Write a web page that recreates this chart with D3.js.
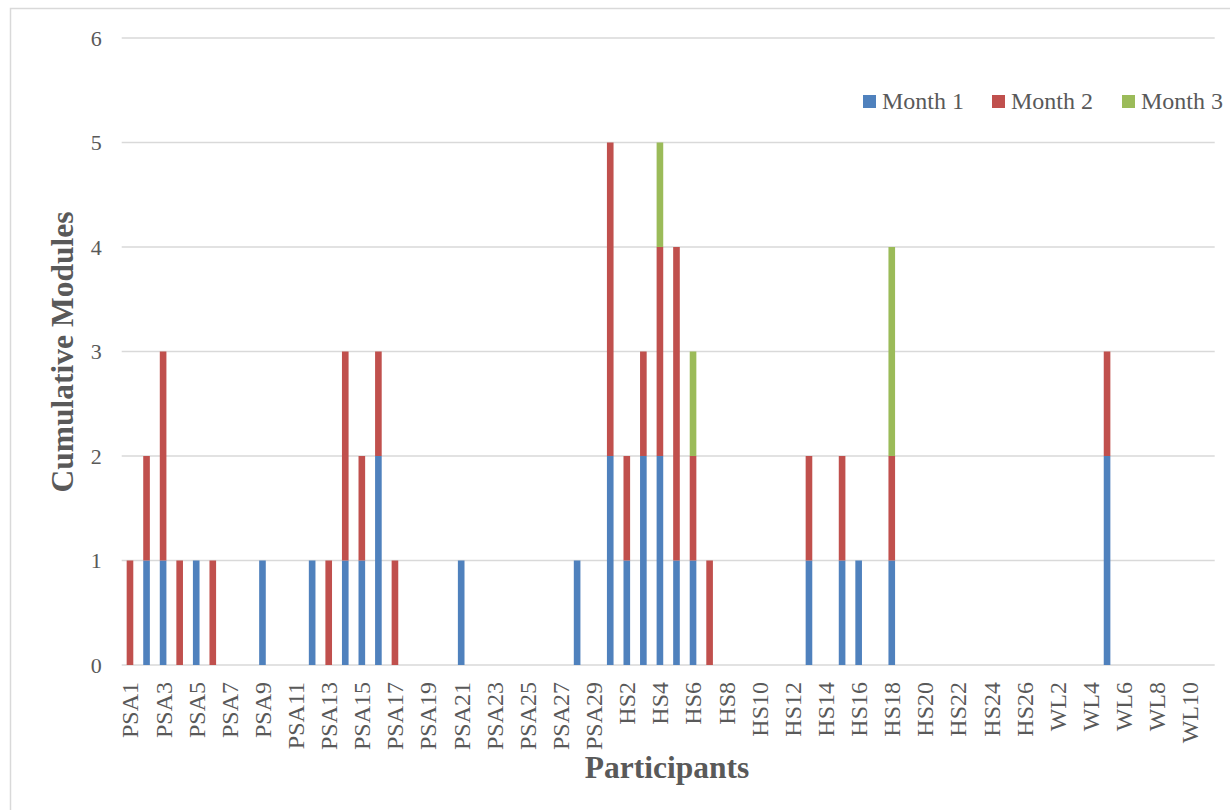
<!DOCTYPE html>
<html>
<head>
<meta charset="utf-8">
<script src="https://cdn.jsdelivr.net/npm/d3@7"></script>
<style>
  html, body { margin: 0; padding: 0; background: #fff; }
  svg { display: block; }
  text { font-family: "Liberation Serif", "Times New Roman", serif; }
</style>
</head>
<body>
<svg id="chart" width="1230" height="810"></svg>
<script>
// Participants: PSA1–PSA29, HS1–HS26, WL1–WL11
const participants = [
  "PSA1","PSA2","PSA3","PSA4","PSA5","PSA6","PSA7","PSA8","PSA9","PSA10",
  "PSA11","PSA12","PSA13","PSA14","PSA15","PSA16","PSA17","PSA18","PSA19","PSA20",
  "PSA21","PSA22","PSA23","PSA24","PSA25","PSA26","PSA27","PSA28","PSA29",
  "HS1","HS2","HS3","HS4","HS5","HS6","HS7","HS8","HS9","HS10",
  "HS11","HS12","HS13","HS14","HS15","HS16","HS17","HS18","HS19","HS20",
  "HS21","HS22","HS23","HS24","HS25","HS26",
  "WL1","WL2","WL3","WL4","WL5","WL6","WL7","WL8","WL9","WL10","WL11"
];

// Modules completed per month (PSA block, HS block, WL block)
const month1 = [
  0,1,1,0,1,0,0,0,1,0, 0,1,0,1,1,2,0,0,0,0, 1,0,0,0,0,0,0,1,0,
  2,1,2,2,1,1,0,0,0,0, 0,0,1,0,1,1,0,1,0,0, 0,0,0,0,0,0,
  0,0,0,0,2,0,0,0,0,0,0
];
const month2 = [
  1,1,2,1,0,1,0,0,0,0, 0,0,1,2,1,1,1,0,0,0, 0,0,0,0,0,0,0,0,0,
  3,1,1,2,3,1,1,0,0,0, 0,0,1,0,1,0,0,1,0,0, 0,0,0,0,0,0,
  0,0,0,0,1,0,0,0,0,0,0
];
const month3 = [
  0,0,0,0,0,0,0,0,0,0, 0,0,0,0,0,0,0,0,0,0, 0,0,0,0,0,0,0,0,0,
  0,0,0,1,0,1,0,0,0,0, 0,0,0,0,0,0,0,2,0,0, 0,0,0,0,0,0,
  0,0,0,0,0,0,0,0,0,0,0
];

const seriesNames = ["Month 1", "Month 2", "Month 3"];
const seriesColors = ["#4F81BD", "#C0504D", "#9BBB59"];
const yTicks = [0, 1, 2, 3, 4, 5, 6];

const rows = participants.map((p, i) => ({
  participant: p,
  "Month 1": month1[i],
  "Month 2": month2[i],
  "Month 3": month3[i]
}));

const svg = d3.select("#chart");
const textGray = "#595959";
const gridGray = "#d9d9d9";

// outer chart frame
svg.append("rect")
  .attr("x", 10.5).attr("y", 8.5)
  .attr("width", 1240).attr("height", 820)
  .attr("fill", "none").attr("stroke", gridGray).attr("stroke-width", 1.5);

const plot = { left: 121.7, right: 1214.7, top: 38, bottom: 665 };

const x = d3.scaleBand()
  .domain(participants)
  .range([plot.left, plot.right])
  .paddingInner(0.6)
  .paddingOuter(0.3);

const y = d3.scaleLinear()
  .domain([0, 6])
  .range([plot.bottom, plot.top]);

// horizontal gridlines
svg.append("g").selectAll("line")
  .data(yTicks)
  .join("line")
  .attr("x1", plot.left).attr("x2", plot.right)
  .attr("y1", d => y(d)).attr("y2", d => y(d))
  .attr("stroke", gridGray).attr("stroke-width", 1.5);

// y axis labels
const yAxis = d3.axisLeft(y).tickValues(yTicks).tickFormat(d3.format("d"))
  .tickSize(0).tickPadding(0);
svg.append("g")
  .attr("transform", `translate(${plot.left - 20},0)`)
  .call(yAxis)
  .call(g => g.select(".domain").remove())
  .call(g => g.selectAll("text")
    .attr("fill", textGray)
    .style("font-family", '"Liberation Serif", serif')
    .style("font-size", "22px"));

// stacked bars
const stack = d3.stack().keys(seriesNames);
const layers = stack(rows);
const color = d3.scaleOrdinal().domain(seriesNames).range(seriesColors);

svg.append("g").selectAll("g")
  .data(layers)
  .join("g")
  .attr("fill", d => color(d.key))
  .selectAll("rect")
  .data(d => d.filter(s => s[1] > s[0]))
  .join("rect")
  .attr("x", d => x(d.data.participant))
  .attr("width", x.bandwidth())
  .attr("y", d => y(d[1]))
  .attr("height", d => y(d[0]) - y(d[1]));

// x axis labels (every other participant)
const xAxis = d3.axisBottom(x)
  .tickValues(participants.filter((p, i) => i % 2 === 0))
  .tickSize(0).tickPadding(0);
svg.append("g")
  .attr("transform", `translate(0,${plot.bottom})`)
  .call(xAxis)
  .call(g => g.select(".domain").remove())
  .call(g => g.selectAll("text")
    .attr("fill", textGray)
    .style("font-family", '"Liberation Serif", serif')
    .style("font-size", "24px")
    .attr("text-anchor", "end")
    .attr("transform", "rotate(-90)")
    .attr("x", -17)
    .attr("y", 0)
    .attr("dy", "0.35em"));

// axis titles
svg.append("text")
  .attr("transform", "translate(73,352) rotate(-90)")
  .attr("text-anchor", "middle")
  .attr("fill", textGray)
  .style("font-weight", "bold")
  .style("font-size", "31.5px")
  .text("Cumulative Modules");

svg.append("text")
  .attr("x", 667).attr("y", 778)
  .attr("text-anchor", "middle")
  .attr("fill", textGray)
  .style("font-weight", "bold")
  .style("font-size", "31.5px")
  .text("Participants");

// legend
const legendX = [863, 992, 1122];
const legend = svg.append("g").selectAll("g")
  .data(seriesNames)
  .join("g")
  .attr("transform", (d, i) => `translate(${legendX[i]},95)`);
legend.append("rect")
  .attr("width", 13).attr("height", 13)
  .attr("fill", d => color(d));
legend.append("text")
  .attr("x", 19).attr("y", 14)
  .attr("fill", textGray)
  .style("font-size", "24px")
  .text(d => d);
</script>
</body>
</html>
